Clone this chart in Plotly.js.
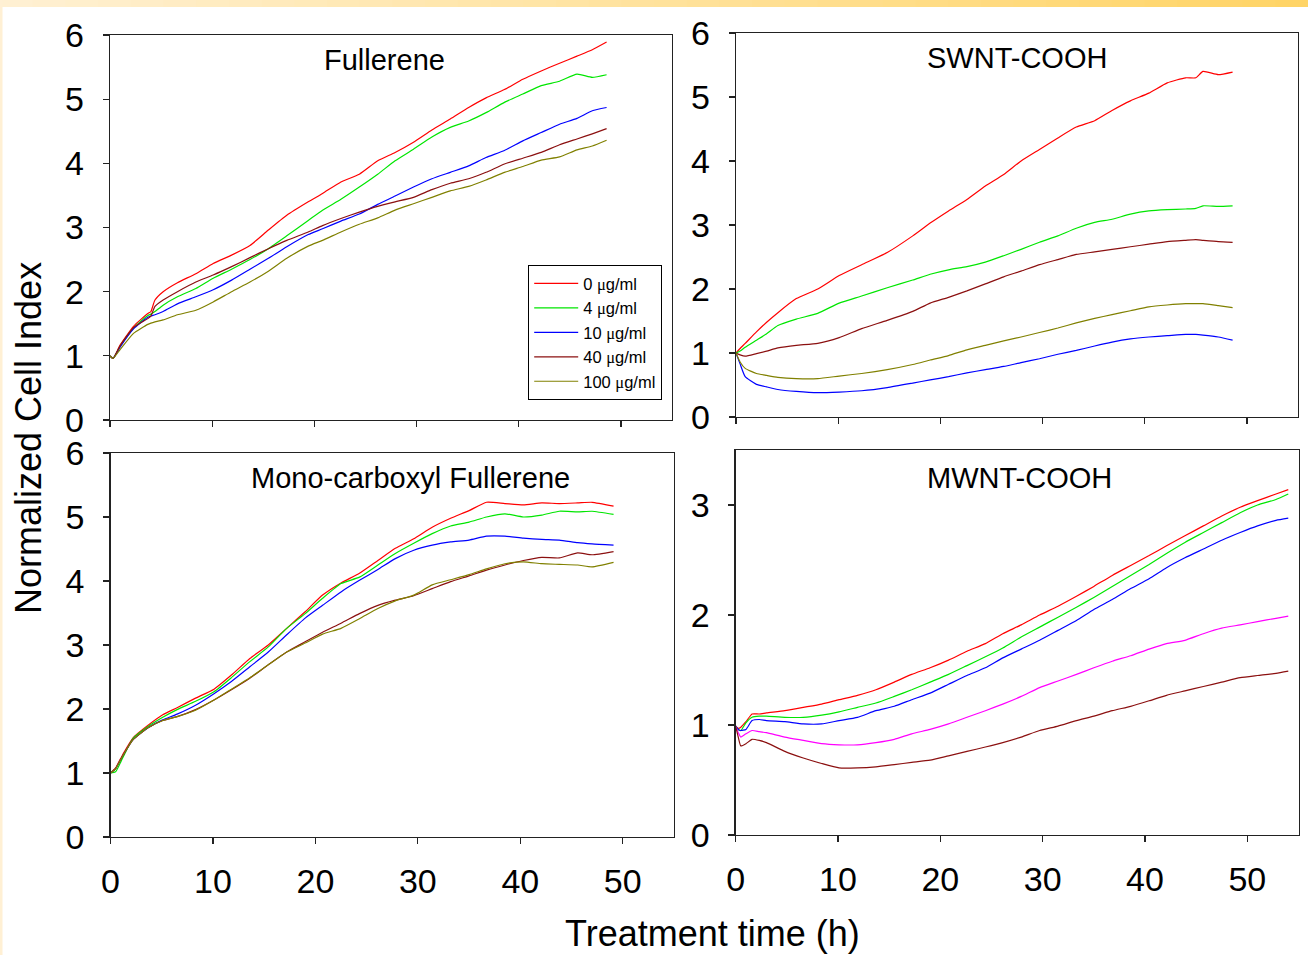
<!DOCTYPE html>
<html>
<head>
<meta charset="utf-8">
<script src="https://cdn.plot.ly/plotly-3.0.1.min.js"></script>
<style>
html,body{margin:0;padding:0;background:#fff;}
#chart{width:1308px;height:955px;}
</style>
</head>
<body>
<div id="chart"></div>
<script>
// ---------- Data ----------
const concLabels = ["0", "4", "10", "40", "100"];

// Fullerene
const fulTime = [0, 0.3, 1, 2.3, 3.7, 4.0, 4.4, 5.2, 6.6, 8.4, 10.1, 11.9, 13.7, 15.5, 17.3, 19.4, 20.8, 22.6, 24.4, 26.2, 27.9, 29.7, 31.5, 33.3, 35.1, 36.8, 38.6, 40.4, 42.2, 44, 45.7, 47.2, 48.6];
const ful0   = [1.0, 0.96, 1.17, 1.46, 1.66, 1.69, 1.87, 2.0, 2.14, 2.28, 2.44, 2.57, 2.72, 2.96, 3.19, 3.40, 3.53, 3.71, 3.83, 4.04, 4.17, 4.33, 4.52, 4.69, 4.87, 5.02, 5.15, 5.31, 5.44, 5.56, 5.67, 5.77, 5.89];
const ful4   = [1.0, 0.96, 1.15, 1.43, 1.63, 1.65, 1.69, 1.79, 1.92, 2.05, 2.21, 2.35, 2.50, 2.67, 2.87, 3.11, 3.27, 3.44, 3.63, 3.83, 4.04, 4.22, 4.41, 4.56, 4.66, 4.79, 4.95, 5.08, 5.21, 5.28, 5.39, 5.34, 5.38];
const ful10  = [1.0, 0.96, 1.14, 1.42, 1.60, 1.62, 1.64, 1.69, 1.81, 1.92, 2.03, 2.18, 2.35, 2.52, 2.70, 2.89, 2.98, 3.10, 3.21, 3.36, 3.49, 3.63, 3.76, 3.86, 3.96, 4.09, 4.20, 4.35, 4.48, 4.61, 4.70, 4.82, 4.87];
const ful40  = [1.0, 0.96, 1.16, 1.44, 1.58, 1.62, 1.77, 1.87, 2.0, 2.15, 2.26, 2.39, 2.53, 2.67, 2.80, 2.93, 3.03, 3.14, 3.24, 3.33, 3.40, 3.47, 3.59, 3.69, 3.76, 3.86, 3.99, 4.08, 4.17, 4.29, 4.38, 4.46, 4.54];
const ful100 = [1.0, 0.96, 1.10, 1.35, 1.49, 1.51, 1.53, 1.56, 1.64, 1.71, 1.84, 2.0, 2.15, 2.32, 2.52, 2.71, 2.80, 2.93, 3.05, 3.15, 3.27, 3.37, 3.47, 3.57, 3.64, 3.74, 3.86, 3.95, 4.05, 4.10, 4.21, 4.27, 4.36];

// SWNT-COOH
const swTime = [0, 0.4, 0.9, 2, 3, 4.1, 5.9, 8, 10.1, 12.3, 14.8, 17.3, 19, 20.8, 22.6, 24.4, 26.2, 27.9, 29.7, 31.5, 33.3, 35.1, 36.8, 38.6, 40.4, 42.2, 44, 45, 45.7, 47.2, 48.6];
const sw0   = [1.0, 1.07, 1.15, 1.33, 1.48, 1.63, 1.85, 2.0, 2.21, 2.38, 2.57, 2.83, 3.03, 3.22, 3.40, 3.61, 3.79, 4.0, 4.18, 4.36, 4.53, 4.63, 4.79, 4.94, 5.06, 5.22, 5.30, 5.30, 5.40, 5.35, 5.39];
const sw4   = [1.0, 1.03, 1.09, 1.20, 1.30, 1.43, 1.53, 1.62, 1.78, 1.89, 2.02, 2.14, 2.23, 2.30, 2.35, 2.42, 2.52, 2.62, 2.73, 2.83, 2.95, 3.04, 3.09, 3.17, 3.22, 3.24, 3.25, 3.26, 3.30, 3.29, 3.30];
const sw10  = [1.0, 0.83, 0.63, 0.51, 0.47, 0.43, 0.40, 0.38, 0.39, 0.41, 0.46, 0.53, 0.58, 0.63, 0.69, 0.74, 0.79, 0.85, 0.91, 0.98, 1.04, 1.11, 1.17, 1.22, 1.25, 1.27, 1.29, 1.29, 1.28, 1.25, 1.20];
const sw40  = [1.0, 0.97, 0.95, 0.99, 1.03, 1.08, 1.12, 1.15, 1.24, 1.38, 1.51, 1.65, 1.78, 1.87, 1.97, 2.08, 2.19, 2.28, 2.38, 2.46, 2.54, 2.58, 2.62, 2.66, 2.70, 2.74, 2.76, 2.77, 2.76, 2.74, 2.73];
const sw100 = [1.0, 0.86, 0.76, 0.68, 0.65, 0.62, 0.60, 0.60, 0.64, 0.68, 0.74, 0.82, 0.89, 0.96, 1.05, 1.12, 1.19, 1.25, 1.32, 1.39, 1.47, 1.54, 1.60, 1.66, 1.72, 1.75, 1.77, 1.77, 1.77, 1.74, 1.71];

// Mono-carboxyl Fullerene
const monoTime = [0, 0.5, 1.2, 2.2, 3.7, 5.1, 6.5, 8.3, 10.1, 11.8, 13.6, 15.4, 17.2, 19, 20.7, 22.5, 24.3, 26.1, 27.8, 29.6, 31.4, 33.2, 35, 36.7, 38.5, 40.3, 42.1, 43.8, 45.6, 47, 49.1];
const mono0   = [1.0, 1.08, 1.29, 1.55, 1.75, 1.91, 2.02, 2.17, 2.31, 2.53, 2.79, 3.0, 3.26, 3.52, 3.78, 3.97, 4.12, 4.32, 4.51, 4.66, 4.84, 4.98, 5.10, 5.23, 5.21, 5.19, 5.22, 5.21, 5.22, 5.23, 5.17];
const mono4   = [1.0, 1.02, 1.24, 1.54, 1.73, 1.87, 1.99, 2.12, 2.27, 2.49, 2.74, 2.97, 3.26, 3.49, 3.73, 3.96, 4.06, 4.25, 4.43, 4.59, 4.74, 4.86, 4.92, 5.0, 5.05, 5.0, 5.03, 5.09, 5.08, 5.09, 5.04];
const mono10  = [1.0, 1.07, 1.27, 1.52, 1.71, 1.83, 1.92, 2.06, 2.24, 2.43, 2.66, 2.89, 3.16, 3.42, 3.62, 3.83, 4.01, 4.18, 4.35, 4.48, 4.56, 4.61, 4.64, 4.70, 4.70, 4.67, 4.65, 4.64, 4.60, 4.58, 4.56];
const mono40  = [1.0, 1.07, 1.27, 1.52, 1.71, 1.82, 1.88, 1.99, 2.14, 2.30, 2.48, 2.69, 2.89, 3.05, 3.20, 3.34, 3.49, 3.62, 3.70, 3.77, 3.88, 3.99, 4.08, 4.17, 4.25, 4.32, 4.37, 4.36, 4.44, 4.41, 4.46];
const mono100 = [1.0, 1.07, 1.27, 1.52, 1.71, 1.82, 1.88, 1.98, 2.14, 2.31, 2.49, 2.69, 2.89, 3.03, 3.17, 3.26, 3.41, 3.57, 3.69, 3.78, 3.94, 4.02, 4.10, 4.19, 4.27, 4.30, 4.27, 4.26, 4.25, 4.22, 4.29];

// MWNT-COOH
const mwTime = [0, 0.25, 0.5, 1.0, 1.6, 2.3, 3, 4.8, 6.6, 8.4, 10.1, 11.9, 13.7, 15.5, 17.2, 19, 20.8, 22.6, 24.4, 26.1, 27.9, 29.7, 31.5, 33.3, 35, 36.8, 38.6, 40.4, 42.1, 43.9, 45.7, 47.5, 49.3, 51, 52.8, 54];
const mwRed     = [0.99, 0.97, 0.98, 1.03, 1.10, 1.10, 1.11, 1.13, 1.16, 1.19, 1.23, 1.27, 1.32, 1.39, 1.46, 1.52, 1.59, 1.67, 1.74, 1.83, 1.91, 2.0, 2.08, 2.17, 2.26, 2.36, 2.45, 2.54, 2.63, 2.72, 2.81, 2.90, 2.98, 3.04, 3.10, 3.14];
const mwGreen   = [0.99, 0.96, 0.95, 1.02, 1.07, 1.08, 1.08, 1.07, 1.07, 1.09, 1.12, 1.16, 1.20, 1.26, 1.32, 1.39, 1.46, 1.54, 1.62, 1.70, 1.80, 1.89, 1.98, 2.07, 2.16, 2.26, 2.36, 2.46, 2.56, 2.66, 2.75, 2.84, 2.93, 3.00, 3.05, 3.10];
const mwBlue    = [0.99, 0.96, 0.95, 0.96, 1.04, 1.05, 1.04, 1.03, 1.01, 1.01, 1.04, 1.07, 1.13, 1.17, 1.23, 1.29, 1.37, 1.45, 1.52, 1.61, 1.69, 1.77, 1.86, 1.95, 2.05, 2.14, 2.24, 2.33, 2.43, 2.52, 2.60, 2.68, 2.75, 2.81, 2.86, 2.88];
const mwMagenta = [0.99, 0.93, 0.89, 0.92, 0.95, 0.94, 0.93, 0.89, 0.86, 0.83, 0.82, 0.82, 0.84, 0.87, 0.92, 0.96, 1.01, 1.07, 1.13, 1.19, 1.26, 1.34, 1.40, 1.46, 1.52, 1.58, 1.63, 1.69, 1.74, 1.77, 1.83, 1.88, 1.91, 1.94, 1.97, 1.99];
const mwMaroon  = [0.99, 0.89, 0.81, 0.83, 0.87, 0.86, 0.84, 0.76, 0.70, 0.65, 0.61, 0.61, 0.62, 0.64, 0.66, 0.68, 0.72, 0.76, 0.80, 0.84, 0.89, 0.95, 0.99, 1.04, 1.08, 1.13, 1.17, 1.22, 1.27, 1.31, 1.35, 1.39, 1.43, 1.45, 1.47, 1.49];

const panelTitles = ["Fullerene", "SWNT-COOH", "Mono-carboxyl Fullerene", "MWNT-COOH"];
const xTickVals = [0, 10, 20, 30, 40, 50];
const yTickVals6 = [0, 1, 2, 3, 4, 5, 6];
const yTickValsMW = [0, 1, 2, 3];

// ---------- Styles ----------
const COLORS = ["#ff0000", "#00e600", "#0000ff", "#8b1010", "#808000"];
const MW_COLORS = ["#ff0000", "#00e600", "#0000ff", "#ff00ff", "#8b1010"];
const FONT = 'Arial, "Liberation Sans", Helvetica, sans-serif';
const MU = '<span style="font-family:\'Times New Roman\',\'Liberation Serif\',serif">\u03bc</span>';

function legendName(c) { return c + ' ' + MU + 'g/ml'; }

const traces = [];
function addPanel(time, series, colors, xa, ya, legend) {
  series.forEach((ys, i) => {
    traces.push({
      type: 'scatter', mode: 'lines',
      x: time, y: ys, xaxis: xa, yaxis: ya,
      line: {color: colors[i], width: 1.2, shape: 'spline', smoothing: 0.5},
      name: legend ? legendName(concLabels[i]) : '',
      legendgroup: legend ? 'g' + i : undefined,
      showlegend: !!legend,
      hoverinfo: 'skip'
    });
  });
}
addPanel(fulTime, [ful0, ful4, ful10, ful40, ful100], COLORS, 'x', 'y', true);
addPanel(swTime, [sw0, sw4, sw10, sw40, sw100], COLORS, 'x2', 'y2', false);
addPanel(monoTime, [mono0, mono4, mono10, mono40, mono100], COLORS, 'x3', 'y3', false);
addPanel(mwTime, [mwRed, mwGreen, mwBlue, mwMagenta, mwMaroon], MW_COLORS, 'x4', 'y4', false);

const W = 1308, H = 955;
const px = v => v / W;
const py = v => 1 - v / H;

function xAxis(d0, d1, anchor, labels) {
  return {
    domain: [px(d0), px(d1)], anchor: anchor, range: [0, 55],
    tickvals: xTickVals, ticktext: xTickVals.map(String),
    showticklabels: labels,
    showline: true, mirror: true, linecolor: '#222', linewidth: 1.3,
    ticks: 'outside', ticklen: 6, tickwidth: 1.2, tickcolor: '#222',
    showgrid: false, zeroline: false,
    tickfont: {family: FONT, size: 34, color: '#000'},
    ticklabelstandoff: 8
  };
}
function yAxis(d0, d1, anchor, range, vals) {
  return {
    domain: [py(d1), py(d0)], anchor: anchor, range: range,
    tickvals: vals, ticktext: vals.map(String),
    showline: true, mirror: true, linecolor: '#222', linewidth: 1.3,
    ticks: 'outside', ticklen: 6, tickwidth: 1.2, tickcolor: '#222',
    showgrid: false, zeroline: false,
    tickfont: {family: FONT, size: 34, color: '#000'},
    ticklabelstandoff: 12
  };
}

// top gradient bar (decoration)
const shapes = [];
const N = 40;
for (let i = 0; i < N; i++) {
  const t = i / (N - 1);
  const g = Math.round(240 + (212 - 240) * t);
  const b = Math.round(210 + (102 - 210) * t);
  shapes.push({type: 'rect', xref: 'paper', yref: 'paper',
    x0: i / N, x1: (i + 1) / N + 0.001, y0: py(7), y1: 1,
    fillcolor: `rgb(255,${g},${b})`, line: {width: 0}, layer: 'below'});
}
shapes.push({type: 'rect', xref: 'paper', yref: 'paper', x0: 0, x1: px(2.5), y0: 0, y1: 1,
  fillcolor: 'rgb(255,240,212)', line: {width: 0}, layer: 'below'});

const annotations = [
  {text: panelTitles[0], x: px(384), y: py(60)},
  {text: panelTitles[1], x: px(1017), y: py(58)},
  {text: panelTitles[2], x: px(410), y: py(478)},
  {text: panelTitles[3], x: px(1019), y: py(478)}
].map(a => Object.assign({xref: 'paper', yref: 'paper', showarrow: false,
  xanchor: 'center', yanchor: 'middle', font: {family: FONT, size: 29, color: '#000'}}, a));

annotations.push({text: 'Normalized Cell Index', xref: 'paper', yref: 'paper',
  x: px(28), y: py(438), textangle: -90, showarrow: false, xanchor: 'center', yanchor: 'middle',
  font: {family: FONT, size: 36, color: '#000'}});
annotations.push({text: 'Treatment time (h)', xref: 'paper', yref: 'paper',
  x: px(712), y: py(933), showarrow: false, xanchor: 'center', yanchor: 'middle',
  font: {family: FONT, size: 36, color: '#000'}});

const layout = {
  width: W, height: H,
  margin: {l: 0, r: 0, t: 0, b: 0},
  paper_bgcolor: '#fff', plot_bgcolor: '#fff',
  font: {family: FONT, color: '#000'},
  showlegend: true,
  legend: {
    x: px(662), y: py(265), xanchor: 'right', yanchor: 'top',
    bgcolor: '#fff', bordercolor: '#000', borderwidth: 1.2,
    font: {family: FONT, size: 16.5, color: '#000'},
    traceorder: 'grouped', tracegroupgap: 0, itemwidth: 44
  },
  xaxis: xAxis(110, 672, 'y', false),
  yaxis: yAxis(35, 420, 'x', [0, 6], yTickVals6),
  xaxis2: xAxis(736, 1298, 'y2', false),
  yaxis2: yAxis(33, 417, 'x2', [0, 6], yTickVals6),
  xaxis3: xAxis(110.5, 674, 'y3', true),
  yaxis3: yAxis(453, 837, 'x3', [0, 6], yTickVals6),
  xaxis4: xAxis(735.7, 1298.5, 'y4', true),
  yaxis4: yAxis(450, 835, 'x4', [0, 3.5], yTickValsMW),
  shapes: shapes,
  annotations: annotations
};

Plotly.newPlot('chart', traces, layout, {displayModeBar: false, staticPlot: true});
</script>
</body>
</html>
